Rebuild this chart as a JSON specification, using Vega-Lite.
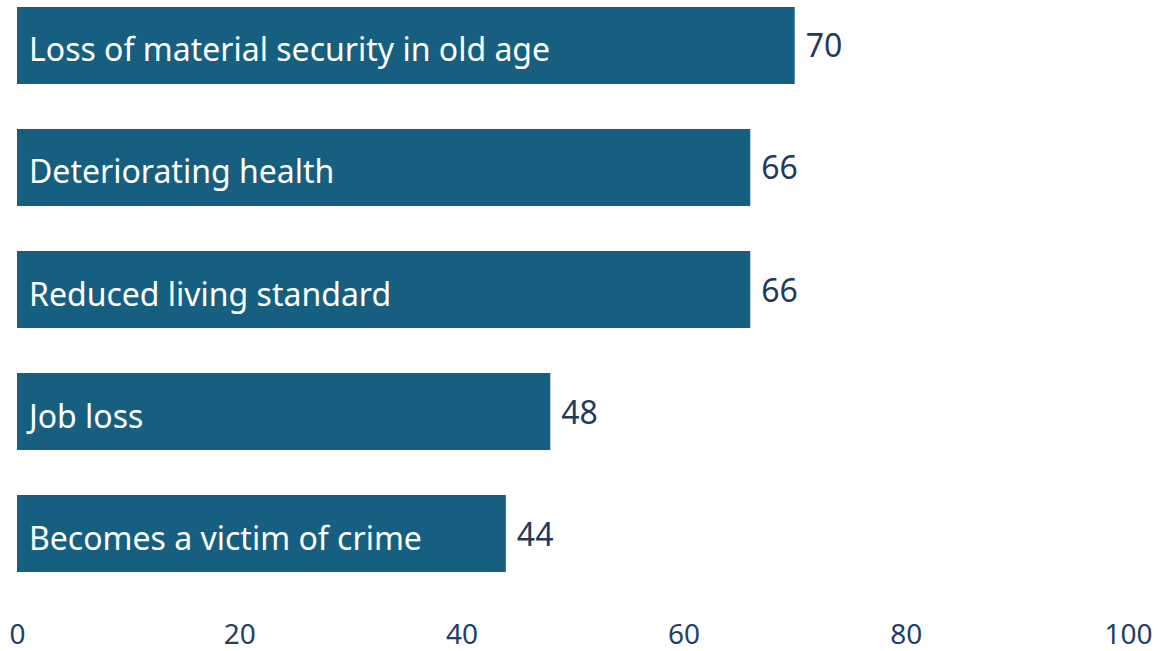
{
  "$schema": "https://vega.github.io/schema/vega-lite/v6.json",
  "width": 1111,
  "height": 577,
  "autosize": {"type": "none"},
  "padding": {"left": 17, "top": 1, "right": 30, "bottom": 73},
  "background": "white",
  "config": {"view": {"stroke": null}, "font": "Noto Sans"},
  "data": {"values": [
    {"risk": "Loss of material security in old age", "value": 70},
    {"risk": "Deteriorating health", "value": 66},
    {"risk": "Reduced living standard", "value": 66},
    {"risk": "Job loss", "value": 48},
    {"risk": "Becomes a victim of crime", "value": 44}
  ]},
  "encoding": {
    "y": {"field": "risk", "type": "nominal", "sort": null, "axis": null,
          "scale": {"paddingInner": 0.369, "paddingOuter": 0.049}},
    "x": {"field": "value", "type": "quantitative",
          "scale": {"domain": [0, 100], "nice": false},
          "axis": {"values": [0, 20, 40, 60, 80, 100], "title": null, "grid": false, "domain": false, "ticks": false,
                   "labelFlush": false, "labelFontSize": 28, "labelColor": "#1f3f66", "labelPadding": 43, "labelFont": "Noto Sans"}}
  },
  "layer": [
    {"mark": {"type": "bar", "color": "#175f80"}},
    {"mark": {"type": "text", "align": "left", "baseline": "middle", "dx": 12, "dy": 6, "fontSize": 32, "color": "white"},
     "encoding": {"x": {"datum": 0}, "text": {"field": "risk"}}},
    {"mark": {"type": "text", "align": "left", "baseline": "middle", "dx": 11, "dy": 2, "fontSize": 32, "color": "#1f3a5c"},
     "encoding": {"text": {"field": "value"}}}
  ]
}
